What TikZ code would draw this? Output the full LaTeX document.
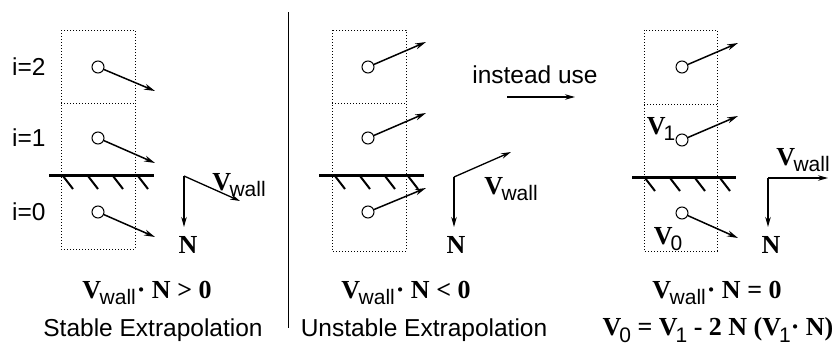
\documentclass[tikz,border=0pt]{standalone}
\usepackage{fontspec}
\setmainfont{Liberation Serif}
\setsansfont{Liberation Sans}
\usetikzlibrary{arrows.meta}
\newcommand{\subsf}[1]{\raisebox{-6.5pt}{\sffamily\mdseries\fontsize{21}{21}\selectfont #1}}
\newcommand{\Vwall}{{\bfseries V}\kern-1.5pt\subsf{wall}}
\begin{document}
\begin{tikzpicture}[x=1pt,y=-1pt,
  cellbox/.style={line width=0.9pt, dash pattern=on 0.9pt off 2.1pt},
  wallline/.style={line width=3pt},
  hatch/.style={line width=2pt},
  vec/.style={line width=1.5pt, -{Stealth[length=11pt,width=6pt]}},
  particle/.style={circle, draw, line width=1pt, minimum size=12pt, inner sep=0pt, fill=white},
  lab/.style={font=\sffamily\fontsize{24.5}{28}\selectfont, inner sep=0pt},
  mlab/.style={font=\bfseries\fontsize{26}{28}\selectfont, inner sep=0pt},
  axis/.style={line width=1.3pt, -{Stealth[length=10pt,width=5.5pt]}}]
\useasboundingbox (0,0) rectangle (832,356);

% ---------------- Panel 1 ----------------
\draw[cellbox] (61,30) rectangle (135,249);
\draw[cellbox] (61,103) -- (135,103);
\draw[wallline] (49,175) -- (154,175);
\foreach \x in {63,88,113,138} \draw[hatch] (\x,176) -- (\x+10,189);
\node[particle] (a2) at (98,67) {};
\node[particle] (a1) at (98,138) {};
\node[particle] (a0) at (98,212) {};
\coordinate (ea2) at (155,91);
\coordinate (ea1) at (155,163);
\coordinate (ea0) at (155,237);
\draw[vec] (a2) -- (ea2);
\draw[vec] (a1) -- (ea1);
\draw[vec] (a0) -- (ea0);
\node[lab, anchor=west] (i2) at (12,67) {i=2};
\node[lab, anchor=west] (i1) at (12,138) {i=1};
\node[lab, anchor=west] (i0) at (12,212) {i=0};
\coordinate (ca) at (184,176);
\coordinate (na) at (184,227);
\coordinate (wa) at (240,201);
\draw[axis] (ca) -- (na);
\draw[axis] (ca) -- (wa);
\node[mlab] (vwa) at (239,185) {\Vwall};
\node[mlab] (nla) at (188,245) {N};
\node[mlab] (fa) at (147,293) {\Vwall\kern1pt·\ N > 0};
\node[lab] (ta) at (153,330) {Stable Extrapolation};

% divider
\coordinate (dt) at (288,12);
\coordinate (db) at (288,328);
\draw[line width=1pt] (dt) -- (db);

% ---------------- Panel 2 ----------------
\draw[cellbox] (332,30) rectangle (406,251);
\draw[cellbox] (332,103) -- (406,103);
\draw[wallline] (319,175) -- (424,175);
\foreach \x in {335,360,385,408} \draw[hatch] (\x,176) -- (\x+10,189);
\node[particle] (b2) at (368,67) {};
\node[particle] (b1) at (368,138) {};
\node[particle] (b0) at (368,212) {};
\coordinate (eb2) at (426,42);
\coordinate (eb1) at (426,113);
\coordinate (eb0) at (426,188);
\draw[vec] (b2) -- (eb2);
\draw[vec] (b1) -- (eb1);
\draw[vec] (b0) -- (eb0);
\coordinate (cb) at (454,177);
\coordinate (nb) at (454,227);
\coordinate (wb) at (511,152);
\draw[axis] (cb) -- (nb);
\draw[axis] (cb) -- (wb);
\node[mlab] (vwb) at (511,189) {\Vwall};
\node[mlab] (nlb) at (456,245) {N};
\node[mlab] (fb) at (406,293) {\Vwall\kern1pt·\ N < 0};
\node[lab] (tb) at (424,330) {Unstable Extrapolation};
\node[lab] (iu) at (535,75) {instead use};
\coordinate (is) at (507,97);
\coordinate (ie) at (575,97);
\draw[axis] (is) -- (ie);

% ---------------- Panel 3 ----------------
\draw[cellbox] (644,30) rectangle (717,251);
\draw[cellbox] (644,104) -- (717,104);
\draw[wallline] (632,177) -- (736,177);
\foreach \x in {645,670,695,720} \draw[hatch] (\x,178) -- (\x+10,191);
\node[particle] (c2) at (682,67) {};
\node[particle] (c1) at (682,140) {};
\node[particle] (c0) at (682,213) {};
\coordinate (ec2) at (738,43);
\coordinate (ec1) at (738,116);
\coordinate (ec0) at (738,238);
\draw[vec] (c2) -- (ec2);
\draw[vec] (c1) -- (ec1);
\draw[vec] (c0) -- (ec0);
\node[mlab] (v1) at (661,129) {V\kern-2pt\subsf{1}};
\node[mlab] (v0) at (668,239) {V\kern-2pt\subsf{0}};
\coordinate (cc) at (768,178);
\coordinate (nc) at (768,227);
\coordinate (wc) at (828,178);
\draw[axis] (cc) -- (nc);
\draw[axis] (cc) -- (wc);
\node[mlab] (vwc) at (803,160) {\Vwall};
\node[mlab] (nlc) at (771,245) {N};
\node[mlab] (fc) at (717,293) {\Vwall\kern1pt·\ N = 0};
\node[mlab] (gc) at (718,330) {V\kern-2pt\subsf{0} = V\kern-2pt\subsf{1} - 2 N (V\kern-2pt\subsf{1}·\ N)};
\end{tikzpicture}
\end{document}
